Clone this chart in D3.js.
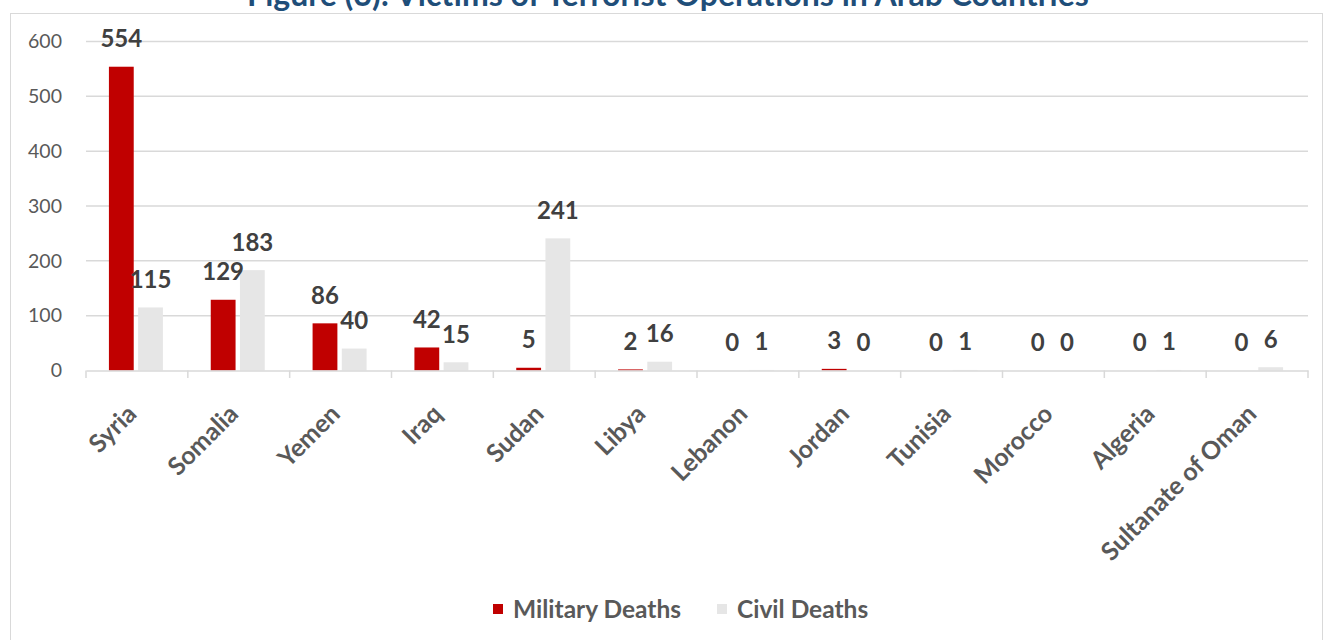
<!DOCTYPE html>
<html><head><meta charset="utf-8">
<script src="https://cdn.jsdelivr.net/npm/d3@7"></script>
<style>body{margin:0;background:#fff;} svg{display:block;font-family:Lato,"Open Sans",sans-serif;}</style>
</head><body><svg id="c" width="1325" height="640"></svg>
<script>
const categories = ["Syria","Somalia","Yemen","Iraq","Sudan","Libya","Lebanon","Jordan","Tunisia","Morocco","Algeria","Sultanate of Oman"];
const militaryDeaths = [554,129,86,42,5,2,0,3,0,0,0,0];
const civilDeaths = [115,183,40,15,241,16,1,0,1,0,1,6];
const yTicks = [0,100,200,300,400,500,600];
const seriesNames = ["Military Deaths","Civil Deaths"];
const colors = ["#C00000","#E6E6E6"];
const title = "Figure (3): Victims of Terrorist Operations in Arab Countries";

const svg = d3.select("#c");
svg.append("rect").attr("x",10.5).attr("y",13.5).attr("width",1312).attr("height",640).attr("fill","none").attr("stroke","#d9d9d9");
svg.append("text").attr("x",668).attr("y",6).attr("text-anchor","middle").attr("font-size",32).attr("font-weight","bold").attr("fill","#1F4E79").text(title);

const x0 = d3.scaleBand().domain(categories).range([86,1308]).paddingInner(0).paddingOuter(0);
const x1 = d3.scaleBand().domain(seriesNames).range([x0.bandwidth()/2-28, x0.bandwidth()/2+26]).paddingInner(0.15);
const y = d3.scaleLinear().domain([0,600]).range([370.5,41.5]);

// gridlines
svg.append("g").selectAll("line").data(yTicks.filter(d=>d>0)).join("line")
  .attr("x1",86).attr("x2",1308).attr("y1",d=>y(d)).attr("y2",d=>y(d))
  .attr("stroke","#d9d9d9").attr("stroke-width",1.5);

// y axis labels
const yAxis = d3.axisLeft(y).tickValues(yTicks).tickSize(0).tickPadding(0);
const ya = svg.append("g").attr("transform","translate(62,0)").call(yAxis);
ya.select(".domain").remove();
ya.selectAll("text").attr("font-size",19.5).attr("fill","#595959").attr("font-family","Lato, 'Open Sans', sans-serif");

// bars
const data = categories.map((c,i)=>({c, vals:[militaryDeaths[i], civilDeaths[i]]}));
const groups = svg.append("g").selectAll("g").data(data).join("g").attr("transform",d=>`translate(${x0(d.c)},0)`);
groups.selectAll("rect").data(d=>d.vals.map((v,j)=>({v,s:seriesNames[j],j}))).join("rect")
  .attr("x",d=>x1(d.s)).attr("width",x1.bandwidth())
  .attr("y",d=>y(d.v)).attr("height",d=>y(0)-y(d.v)).attr("fill",d=>colors[d.j]);
groups.selectAll("text").data(d=>d.vals.map((v,j)=>({v,s:seriesNames[j],j}))).join("text")
  .attr("x",d=>x1(d.s)+x1.bandwidth()/2).attr("y",d=>y(d.v)-28).attr("dy","0.35em")
  .attr("text-anchor","middle").attr("font-size",24).attr("font-weight","bold").attr("fill","#404040").text(d=>d.v);

// x axis
const xAxis = d3.axisBottom(x0).tickSize(0).tickPadding(0);
const xa = svg.append("g").attr("transform","translate(0,370.5)").call(xAxis);
xa.select(".domain").attr("stroke","#d9d9d9").attr("stroke-width",1.5);
xa.selectAll(".tick text").attr("font-size",25).attr("font-weight","bold").attr("fill","#595959")
  .attr("font-family","Lato, 'Open Sans', sans-serif")
  .attr("text-anchor","end").attr("dy",0).attr("transform","translate(1,45) rotate(-45)");
// boundary ticks
svg.append("g").selectAll("line").data(d3.range(categories.length+1)).join("line")
  .attr("x1",i=>86+i*x0.bandwidth()).attr("x2",i=>86+i*x0.bandwidth())
  .attr("y1",370.5).attr("y2",378).attr("stroke","#d9d9d9").attr("stroke-width",1.5);

// legend
const leg = svg.append("g");
const legX = [493,717];
seriesNames.forEach((s,i)=>{
  leg.append("rect").attr("x",legX[i]).attr("y",604).attr("width",10).attr("height",10).attr("fill",colors[i]);
  leg.append("text").attr("x",legX[i]+20).attr("y",609).attr("dy","0.35em").attr("font-size",24.5).attr("font-weight","bold").attr("fill","#595959").text(s);
});
</script></body></html>
